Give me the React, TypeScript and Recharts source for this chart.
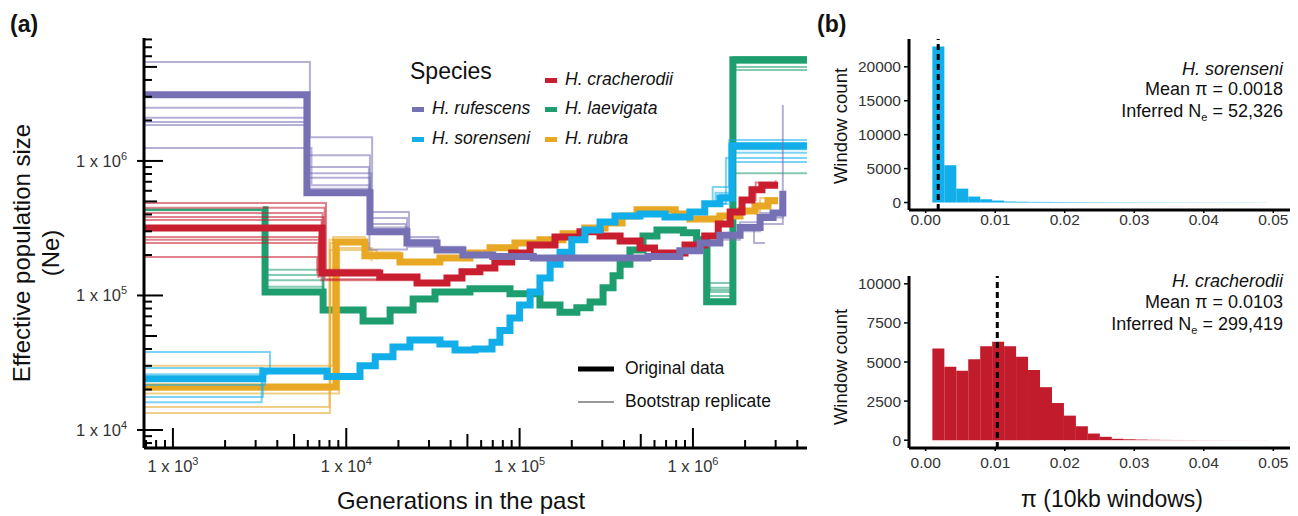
import React from "react";
import { LineChart, Line, XAxis, YAxis, BarChart, Bar, ReferenceLine } from "recharts";

const FONT = '"Liberation Sans", Arial, Helvetica, sans-serif';

// ---------- panel (a): PSMC curves, generations vs Ne ----------
const laevigataGen = [3300, 3400, 7350, 12500, 17900, 24300, 32500, 51700, 88000, 131000, 171000, 214000, 255000, 303000, 346000, 380000, 433000, 515000, 620000, 880000, 1050000, 1200000, 1700000, 4550000];
const laevigataNe = [4.33e5, 1.06e5, 7.8e4, 6.45e4, 7.8e4, 9.4e4, 1.06e5, 1.12e5, 1.03e5, 8.5e4, 7.5e4, 8.1e4, 8.95e4, 1.14e5, 1.4e5, 1.71e5, 2.18e5, 2.77e5, 3.07e5, 2.92e5, 2.59e5, 9.0e4, 5.64e6, 5.64e6];
const laevigataBoot = [
  [[681, 4.33e5], [3400, 1.55e5], [7350, 7.8e4]],
  [[681, 4.35e5], [3450, 1.42e5], [7400, 8.0e4]],
  [[681, 4.3e5], [3350, 1.3e5], [7300, 7.6e4]],
  [[681, 4.33e5], [3400, 1.16e5], [7350, 7.8e4]],
  [[1.05e6, 2.59e5], [1.22e6, 1.24e5], [1.72e6, 5.93e6], [4.55e6, 5.93e6]],
  [[1.05e6, 2.59e5], [1.2e6, 1.14e5], [1.7e6, 5.35e6], [4.55e6, 5.35e6]],
  [[1.05e6, 2.59e5], [1.25e6, 1.06e5], [1.75e6, 5.0e6], [4.55e6, 5.0e6]],
  [[1.05e6, 2.59e5], [1.18e6, 9.9e4], [1.68e6, 4.75e6], [4.55e6, 4.75e6]],
  [[1.05e6, 2.59e5], [1.22e6, 1.1e5], [1.72e6, 8.1e5], [4.55e6, 8.1e5]],
];

const rubraGen = [681, 8730, 12800, 20400, 34700, 51700, 67500, 94000, 131000, 178000, 238000, 311000, 390000, 476000, 790000, 960000, 1430000, 1870000, 2280000, 2710000, 3100000];
const rubraNe = [2.09e4, 2.5e5, 1.97e5, 1.77e5, 1.9e5, 2.07e5, 2.26e5, 2.45e5, 2.59e5, 2.87e5, 3.17e5, 3.46e5, 3.9e5, 4.33e5, 4.04e5, 3.7e5, 3.9e5, 4.25e5, 4.63e5, 5.05e5, 5.05e5];
const rubraBoot = [
  [[681, 3.0e4], [8400, 2.72e5], [12800, 2.1e5], [20400, 1.8e5]],
  [[681, 1.99e4], [8100, 2.45e5], [13500, 1.85e5]],
  [[681, 1.87e4], [9100, 2.25e5], [14000, 1.8e5]],
  [[681, 1.48e4], [8000, 2.6e5], [12500, 2.0e5], [20000, 1.75e5]],
  [[681, 1.34e4], [8050, 2.18e5], [15000, 1.85e5]],
  [[1.87e6, 4.25e5], [2.44e6, 5.3e5], [3.1e6, 5.3e5]],
];

const cracherodiiGen = [681, 7250, 15600, 25600, 38100, 46500, 59000, 72000, 90000, 115000, 160000, 223000, 291000, 380000, 495000, 600000, 900000, 1170000, 1400000, 1640000, 1920000, 2190000, 2500000, 3100000];
const cracherodiiNe = [3.18e5, 1.47e5, 1.37e5, 1.24e5, 1.35e5, 1.5e5, 1.6e5, 1.77e5, 2.07e5, 2.37e5, 2.72e5, 2.97e5, 2.77e5, 2.54e5, 2.25e5, 2.07e5, 2.37e5, 2.77e5, 3.4e5, 4.18e5, 5.13e5, 6.1e5, 6.6e5, 6.6e5];
const cracherodiiBoot = [
  [[681, 4.87e5], [7640, 1.5e5], [15600, 1.4e5]],
  [[681, 4.48e5], [7500, 1.32e5], [25600, 1.25e5]],
  [[681, 4.1e5], [7300, 1.55e5], [15600, 1.4e5]],
  [[681, 3.83e5], [7400, 1.45e5]],
  [[681, 3.64e5], [7200, 1.3e5], [25000, 1.24e5]],
  [[681, 2.72e5], [7000, 1.5e5]],
  [[681, 2.59e5], [7100, 1.42e5]],
  [[681, 2.45e5], [6900, 1.35e5]],
  [[681, 1.93e5], [6800, 1.45e5]],
  [[1.92e6, 5.13e5], [2.3e6, 6.9e5], [3.0e6, 7.2e5]],
];

const sorenseniGen = [681, 3300, 7740, 12000, 14700, 18600, 23300, 34700, 42400, 55300, 69300, 77000, 88000, 100000, 115000, 131000, 150000, 171000, 200000, 238000, 291000, 355000, 495000, 690000, 960000, 1170000, 1430000, 1680000, 4550000];
const sorenseniNe = [2.4e4, 2.75e4, 2.5e4, 3.0e4, 3.5e4, 4.14e4, 4.67e4, 4.36e4, 3.94e4, 4.0e4, 4.5e4, 5.5e4, 6.8e4, 8.5e4, 1.06e5, 1.35e5, 1.71e5, 2.1e5, 2.59e5, 3.07e5, 3.52e5, 3.9e5, 4.04e5, 3.83e5, 4.18e5, 4.8e5, 5.3e5, 1.29e6, 1.29e6];
const sorenseniBoot = [
  [[681, 3.8e4], [3630, 2.75e4]],
  [[681, 2.89e4], [3300, 2.75e4]],
  [[681, 2.16e4], [3400, 2.75e4]],
  [[681, 1.76e4], [3300, 2.7e4]],
  [[681, 1.61e4], [3250, 2.7e4]],
  [[681, 2.6e4], [3500, 2.8e4]],
  [[1.17e6, 4.8e5], [1.3e6, 6.4e5], [1.62e6, 1.43e6], [4.55e6, 1.43e6]],
  [[1.17e6, 4.8e5], [1.35e6, 5.8e5], [1.66e6, 1.36e6], [4.55e6, 1.36e6]],
  [[1.17e6, 4.8e5], [1.43e6, 5.6e5], [1.7e6, 1.15e6], [4.55e6, 1.15e6]],
  [[1.17e6, 4.8e5], [1.55e6, 1.05e6], [4.55e6, 1.05e6]],
  [[1.17e6, 4.8e5], [1.64e6, 9.8e5], [4.55e6, 9.8e5]],
  [[1.17e6, 4.8e5], [1.4e6, 5.3e5], [1.72e6, 1.22e6], [4.55e6, 1.22e6]],
];

const rufescensGen = [681, 5930, 13700, 22400, 33400, 47100, 70000, 120000, 300000, 550000, 840000, 1100000, 1430000, 1870000, 2440000, 2900000, 3300000];
const rufescensNe = [3.1e6, 5.8e5, 2.97e5, 2.45e5, 2.18e5, 2.0e5, 1.95e5, 1.9e5, 1.9e5, 1.95e5, 2.15e5, 2.45e5, 2.8e5, 3.2e5, 3.8e5, 4.1e5, 6.0e5];
const rufescensBoot = [
  [[681, 5.44e6], [6170, 1.5e6], [14100, 4.18e5], [23000, 2.72e5], [34000, 2.3e5], [48000, 2.0e5]],
  [[681, 2.48e6], [6000, 1.1e6], [13700, 3.77e5], [22400, 2.6e5], [33400, 2.25e5], [47100, 2.0e5]],
  [[681, 2.09e6], [5800, 9.0e5], [13500, 3.4e5], [22000, 2.5e5], [33000, 2.2e5]],
  [[681, 1.95e6], [6100, 8.1e5], [13900, 3.2e5], [22800, 2.45e5]],
  [[681, 1.85e6], [5900, 7.5e5], [13700, 3.07e5], [22400, 2.45e5]],
  [[681, 1.25e6], [6300, 6.6e5], [13600, 2.2e5], [22400, 2.3e5], [33400, 2.18e5]],
  [[681, 3.0e6], [6050, 6.2e5], [13800, 2.85e5]],
  [[1.87e6, 3.2e5], [2.25e6, 2.45e5], [2.6e6, 2.45e5]],
  [[2.44e6, 3.8e5], [3.3e6, 2.6e6]],
  [[1.43e6, 2.6e5], [1.87e6, 3.0e5], [2.44e6, 3.4e5], [3.3e6, 4.5e5]],
  [[1.43e6, 2.9e5], [1.87e6, 3.5e5], [2.44e6, 4.1e5], [3.2e6, 5.2e5]],
];

const genTicks = [700, 800, 900, 1e3, 2e3, 3e3, 4e3, 5e3, 6e3, 7e3, 8e3, 9e3, 1e4, 2e4, 3e4, 4e4, 5e4, 6e4, 7e4, 8e4, 9e4, 1e5, 2e5, 3e5, 4e5, 5e5, 6e5, 7e5, 8e5, 9e5, 1e6, 2e6, 3e6, 4e6];
const neTicks = [8e3, 9e3, 1e4, 2e4, 3e4, 4e4, 5e4, 6e4, 7e4, 8e4, 9e4, 1e5, 2e5, 3e5, 4e5, 5e5, 6e5, 7e5, 8e5, 9e5, 1e6, 2e6, 3e6, 4e6, 5e6, 6e6, 7e6, 8e6];

const species = [
  { name: "H. laevigata", color: "#1E9E6F", gen: laevigataGen, ne: laevigataNe, boot: laevigataBoot },
  { name: "H. rubra", color: "#E8A824", gen: rubraGen, ne: rubraNe, boot: rubraBoot },
  { name: "H. cracherodii", color: "#C81E30", gen: cracherodiiGen, ne: cracherodiiNe, boot: cracherodiiBoot },
  { name: "H. sorenseni", color: "#12AEEA", gen: sorenseniGen, ne: sorenseniNe, boot: sorenseniBoot },
  { name: "H. rufescens", color: "#7670B4", gen: rufescensGen, ne: rufescensNe, boot: rufescensBoot },
];

// ---------- panel (b): pi histograms ----------
const piBins = [0.00182, 0.00354, 0.00526, 0.00698, 0.0087, 0.01042, 0.01214, 0.01386, 0.01558, 0.0173, 0.01902, 0.02074, 0.02246, 0.02418, 0.0259, 0.02762, 0.02934, 0.03106, 0.03278, 0.0345, 0.03622, 0.03794, 0.03966, 0.04138, 0.0431, 0.04482, 0.04654, 0.04826];
const sorenseniCounts = [23000, 5500, 2050, 880, 480, 290, 150, 120, 100, 90, 80, 70, 60, 55, 50, 45, 40, 38, 35, 32, 30, 28, 26, 24, 22, 20, 18, 16];
const cracherodiiCounts = [5870, 4700, 4445, 5170, 6010, 6290, 6010, 5330, 4490, 3390, 2375, 1570, 890, 425, 215, 90, 60, 40, 25, 18, 14, 10, 8, 6, 5, 4, 3, 3];
const piTicks = [0, 0.01, 0.02, 0.03, 0.04, 0.05];
const sorenseniCountTicks = [0, 5000, 10000, 15000, 20000];
const cracherodiiCountTicks = [0, 2500, 5000, 7500, 10000];

const log10 = (v: number) => Math.log10(v);
const isDecade = (v: number) => Math.abs(log10(v) - Math.round(log10(v))) < 1e-9;
const leading = (v: number) => Math.round(v / Math.pow(10, Math.floor(log10(v) + 1e-9)));

function Pow10({ v }: { v: number }) {
  return (
    <>
      1 x 10<tspan dy={-7} fontSize={11}>{Math.round(log10(v))}</tspan>
    </>
  );
}

function GenTick(props: any) {
  const { x, y, payload } = props;
  const v = payload.value;
  const len = isDecade(v) ? 20 : leading(v) === 5 ? 14 : 8;
  return (
    <g>
      <line x1={x} x2={x} y1={y} y2={y - len} stroke="#000" strokeWidth={2} />
      {isDecade(v) && (
        <text x={x} y={y + 24} textAnchor="middle" fontSize={16.5} fill="#333" fontFamily={FONT}>
          <Pow10 v={v} />
        </text>
      )}
    </g>
  );
}

function NeTick(props: any) {
  const { x, y, payload } = props;
  const v = payload.value;
  const major = isDecade(v);
  const len = major ? 19 : leading(v) === 5 ? 13 : 8;
  return (
    <g>
      <line x1={major ? x - 7 : x} x2={x + len} y1={y} y2={y} stroke="#000" strokeWidth={2} />
      {major && (
        <text x={x - 17} y={y + 6} textAnchor="end" fontSize={16.5} fill="#333" fontFamily={FONT}>
          <Pow10 v={v} />
        </text>
      )}
    </g>
  );
}

function PsmcPanel() {
  const lines: any[] = [];
  species.forEach((sp) => {
    sp.boot.forEach((b, j) => {
      lines.push(
        <Line key={`${sp.name}-boot-${j}`} data={b.map(([g, n]) => ({ gen: g, ne: n }))} dataKey="ne"
          type="stepAfter" stroke={sp.color} strokeWidth={2} strokeOpacity={0.55}
          dot={false} activeDot={false} isAnimationActive={false} />
      );
    });
    lines.push(
      <Line key={`${sp.name}-orig`} data={sp.gen.map((g, i) => ({ gen: g, ne: sp.ne[i] }))} dataKey="ne"
        type="stepAfter" stroke={sp.color} strokeWidth={7}
        dot={false} activeDot={false} isAnimationActive={false} />
    );
  });
  return (
    <LineChart width={820} height={516} margin={{ top: 38, right: 13, bottom: 0, left: 0 }}>
      <XAxis dataKey="gen" type="number" scale="log" domain={[681, 4.55e6]} allowDataOverflow
        ticks={genTicks} interval={0} tickSize={0} tickMargin={0} tickLine={false} height={68}
        axisLine={{ stroke: "#000", strokeWidth: 3 }} tick={<GenTick />} />
      <YAxis type="number" scale="log" domain={[7350, 8.2e6]} allowDataOverflow
        ticks={neTicks} interval={0} tickSize={0} tickMargin={0} tickLine={false} width={144}
        axisLine={{ stroke: "#000", strokeWidth: 3 }} tick={<NeTick />} />
      {lines}
    </LineChart>
  );
}

function Histogram(props: any) {
  const { counts, color, meanPi, yDomain, yTicks, height, top, xTickMargin } = props;
  const data = piBins.map((p, i) => ({ pi: p, count: counts[i] }));
  return (
    <BarChart width={488} height={height} data={data} barCategoryGap={0} barGap={0}
      margin={{ top, right: 8, bottom: 0, left: 0 }}>
      <XAxis dataKey="pi" type="number" domain={[-0.0024, 0.0524]} allowDataOverflow ticks={piTicks}
        interval={0} tickFormatter={(v: number) => v.toFixed(2)} height={height - top - (top === 39 ? 171 : 172)}
        axisLine={{ stroke: "#000", strokeWidth: 3 }} tickLine={{ stroke: "#000", strokeWidth: 1.5 }}
        tickSize={3} tickMargin={xTickMargin}
        tick={{ fill: "#333", fontSize: 15.5, fontFamily: FONT }} />
      <YAxis type="number" domain={yDomain} ticks={yTicks} interval={0} width={99} allowDataOverflow
        axisLine={{ stroke: "#000", strokeWidth: 3 }} tickLine={{ stroke: "#000", strokeWidth: 1.5 }}
        tickSize={5} tickMargin={3}
        tick={{ fill: "#333", fontSize: 15.5, fontFamily: FONT }} />
      <Bar dataKey="count" fill={color} isAnimationActive={false} />
      <ReferenceLine x={meanPi} stroke="#000" strokeWidth={3} strokeDasharray="6 4" />
    </BarChart>
  );
}

export default function App() {
  const legendKeys = [
    { name: "H. rufescens", color: "#7670B4", x: 412, y: 114 },
    { name: "H. sorenseni", color: "#12AEEA", x: 412, y: 144 },
    { name: "H. cracherodii", color: "#C81E30", x: 545, y: 85 },
    { name: "H. laevigata", color: "#1E9E6F", x: 545, y: 114 },
    { name: "H. rubra", color: "#E8A824", x: 545, y: 144 },
  ];
  return (
    <div style={{ position: "absolute", left: 0, top: 0, width: 1298, height: 516, background: "#fff", fontFamily: FONT }}>
      <div style={{ position: "absolute", left: 0, top: 0 }}>
        <PsmcPanel />
      </div>
      <div style={{ position: "absolute", left: 810, top: 0 }}>
        <Histogram counts={sorenseniCounts} color="#12AEEA" meanPi={0.0018} yDomain={[-1100, 24100]}
          yTicks={sorenseniCountTicks} height={260} top={39} xTickMargin={1} />
      </div>
      <div style={{ position: "absolute", left: 810, top: 240 }}>
        <Histogram counts={cracherodiiCounts} color="#C11B2C" meanPi={0.0103} yDomain={[-500, 10500]}
          yTicks={cracherodiiCountTicks} height={276} top={36} xTickMargin={6} />
      </div>
      <svg width={1298} height={516} style={{ position: "absolute", left: 0, top: 0, pointerEvents: "none" }}
        fontFamily={FONT}>
        <text x={10} y={32} fontSize={23} fontWeight="bold" fill="#111">(a)</text>
        <text x={817} y={32} fontSize={23} fontWeight="bold" fill="#111">(b)</text>

        <text x={30} y={253} transform="rotate(-90 30 253)" textAnchor="middle" fontSize={24} fill="#111">
          Effective population size
        </text>
        <text x={59} y={253} transform="rotate(-90 59 253)" textAnchor="middle" fontSize={24} fill="#111">
          (Ne)
        </text>
        <text x={461} y={509} textAnchor="middle" fontSize={24} fill="#111">Generations in the past</text>

        <text x={410} y={79} fontSize={23} fill="#111">Species</text>
        {legendKeys.map((k) => (
          <g key={k.name}>
            <rect x={k.x} y={k.y - 7} width={12} height={5} fill={k.color} />
            <text x={k.x + 20} y={k.y} fontSize={17.5} fontStyle="italic" fill="#111">{k.name}</text>
          </g>
        ))}

        <line x1={578} x2={614} y1={369} y2={369} stroke="#000" strokeWidth={5} />
        <text x={625} y={374} fontSize={17.5} fill="#111">Original data</text>
        <line x1={578} x2={614} y1={402} y2={402} stroke="#999" strokeWidth={2} />
        <text x={625} y={407} fontSize={17.5} fill="#111">Bootstrap replicate</text>

        <text x={847} y={126} transform="rotate(-90 847 126)" textAnchor="middle" fontSize={18.5} fill="#111">Window count</text>
        <text x={847} y={367} transform="rotate(-90 847 367)" textAnchor="middle" fontSize={18.5} fill="#111">Window count</text>
        <text x={1112} y={507} textAnchor="middle" fontSize={23} fill="#111">π (10kb windows)</text>

        <text x={1283} y={75} textAnchor="end" fontSize={18} fontStyle="italic" fill="#111">H. sorenseni</text>
        <text x={1283} y={95} textAnchor="end" fontSize={18} fill="#111">Mean π = 0.0018</text>
        <text x={1283} y={117} textAnchor="end" fontSize={18} fill="#111">
          Inferred N<tspan dy={4} fontSize={11}>e</tspan><tspan dy={-4}> = 52,326</tspan>
        </text>
        <text x={1283} y={287} textAnchor="end" fontSize={18} fontStyle="italic" fill="#111">H. cracherodii</text>
        <text x={1283} y={308} textAnchor="end" fontSize={18} fill="#111">Mean π = 0.0103</text>
        <text x={1283} y={330} textAnchor="end" fontSize={18} fill="#111">
          Inferred N<tspan dy={4} fontSize={11}>e</tspan><tspan dy={-4}> = 299,419</tspan>
        </text>
      </svg>
    </div>
  );
}
